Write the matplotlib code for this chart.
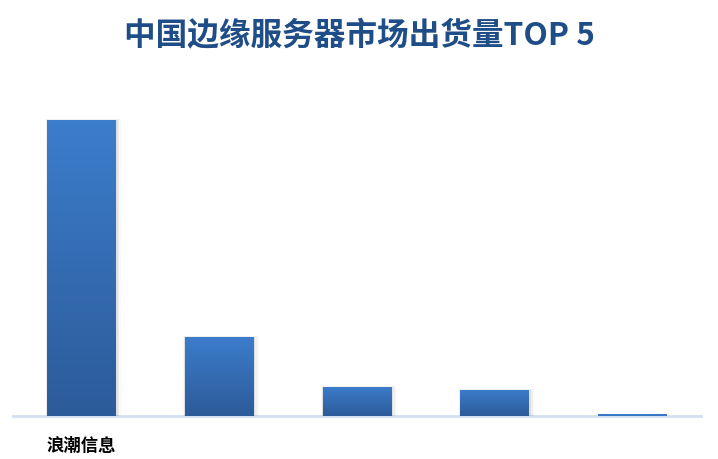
import matplotlib
matplotlib.use("Agg")
import matplotlib.pyplot as plt
import numpy as np
from matplotlib.colors import LinearSegmentedColormap
from matplotlib.patches import Rectangle

plt.rcParams['font.family'] = ['Noto Sans CJK SC', 'DejaVu Sans']

title = "中国边缘服务器市场出货量TOP 5"
tick_labels = ['浪潮信息', '', '', '', '']
values = [296, 79, 29, 26, 1.6]

W, H = 718, 459
fig = plt.figure(figsize=(W / 100, H / 100), dpi=100)
fig.patch.set_facecolor('white')

base_px = 416
top_px = 100
left_px = 12.6
right_px = 701.4
ax = fig.add_axes([left_px / W, 1 - base_px / H, (right_px - left_px) / W, (base_px - top_px) / H])
ymax = values[0] * (base_px - top_px) / 296
ax.set_xlim(-0.5, len(values) - 0.5)
ax.set_ylim(0, ymax)

cmap = LinearSegmentedColormap.from_list('g', ['#2c5b99', '#3c7dcc'])
grad = np.linspace(0, 1, 256).reshape(-1, 1)
x = np.arange(len(values))
bw = 0.5
bars = ax.bar(x, values, width=bw, color='none', edgecolor='none', zorder=3)
for b in bars:
    x0, w, h = b.get_x(), b.get_width(), b.get_height()
    if h <= 0:
        continue
    if h < 5:
        ax.add_patch(Rectangle((x0, 0), w, h, facecolor='#3a78c6', edgecolor='none', zorder=3))
        continue
    # shadow
    for k, a in enumerate([0.06, 0.04, 0.025]):
        dx = 0.012 * (k + 1)
        sh = Rectangle((x0 - dx * 0.3, 0), w + dx * 1.3, h + ymax * 0.003 * (k + 1) * 0.3,
                       facecolor='black', alpha=a, edgecolor='none', zorder=2)
        ax.add_patch(sh)
    im = ax.imshow(grad, extent=[x0, x0 + w, 0, h], origin='lower', cmap=cmap,
                   aspect='auto', zorder=3, interpolation='bilinear')
    clip = Rectangle((x0, 0), w, h, transform=ax.transData, facecolor='none', edgecolor='none')
    ax.add_patch(clip)
    im.set_clip_path(clip)
ax.set_xlim(-0.5, len(values) - 0.5)
ax.set_ylim(0, ymax)

for s in ['top', 'right', 'left']:
    ax.spines[s].set_visible(False)
ax.spines['bottom'].set_color('#d3e0f0')
ax.spines['bottom'].set_linewidth(2)
ax.spines['bottom'].set_zorder(1)
ax.set_yticks([])
ax.set_xticks(x)
ax.set_xticklabels(tick_labels, fontsize=12.5, fontweight='bold', color='black')
ax.tick_params(axis='x', length=0, pad=15)
ax.set_facecolor('none')

fig.text(0.5, 1 - 36 / H, title, ha='center', va='center', fontsize=22.8,
         fontweight='bold', color='#1f4d87')

fig.savefig('out.png', dpi=100, facecolor='white')
